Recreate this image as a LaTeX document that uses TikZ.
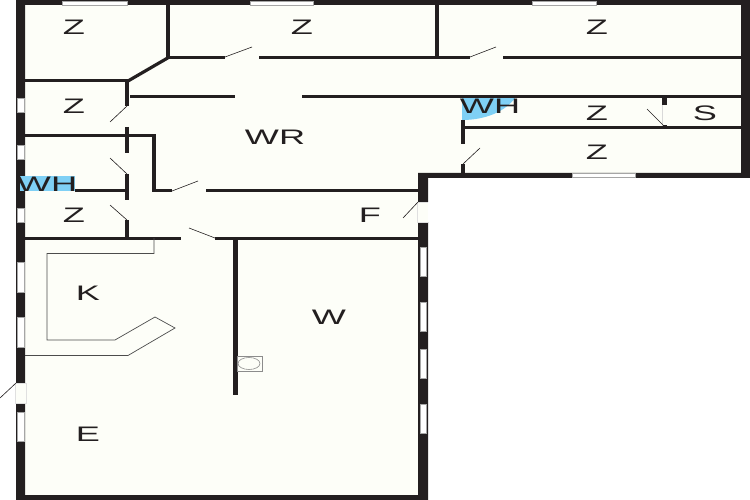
\documentclass[tikz,border=0pt]{standalone}
\usepackage{fontspec}
\setmainfont{Liberation Sans}
\definecolor{floorc}{HTML}{FDFEF8}
\definecolor{wallc}{HTML}{231F20}
\definecolor{wetc}{HTML}{7FD0F5}
\tikzset{
	room/.style={font=\fontsize{21}{21}\selectfont,text=wallc,inner sep=0pt,xscale=1.72,yshift=-0.6pt},
	wall/.style={draw=wallc,line width=3pt},
	thickwall/.style={draw=wallc,line width=4.5pt},
	swing/.style={draw=wallc,line width=0.6pt},
	counter/.style={draw=black!70,line width=0.7pt},
	window/.style={fill=white,draw=black!35,line width=0.4pt},
	doorgap/.style={fill=floorc,draw=black!12,line width=0.4pt},
}
\begin{document}
\begin{tikzpicture}[x=1pt,y=-1pt]
		\useasboundingbox (0,0) rectangle (750,500);
		
		% floor and outer walls
		\fill[floorc] (25,5) -- (741,5) -- (741,173) -- (418,173) -- (418,495) -- (25,495) -- cycle;
		\fill[wetc] (462,97) -- (516,97) .. controls (505,112) and (485,120) .. (462,120) -- cycle;
		\fill[wallc,even odd rule] (16,0) -- (750,0) -- (750,178) -- (428,178) -- (428,500) -- (16,500) -- cycle
			(25,5) -- (741,5) -- (741,173) -- (418,173) -- (418,495) -- (25,495) -- cycle;
		\fill[wetc] (20,176) rectangle (75,191);
		
		% windows
		\foreach \a/\b in {62/127,250/313,532/596}{\draw[window] (\a,1) rectangle (\b,5);}
		\draw[window] (572,173.5) rectangle (635,177);
		\foreach \a/\b in {98/112,145/159,208/222,262/292,317/347,412/441}{\draw[window] (17,\a) rectangle (24,\b);}
		\foreach \a/\b in {247/276,302/331,349/378,404/433}{\draw[window] (420.5,\a) rectangle (426,\b);}
		
		% outside doors
		\draw[doorgap] (15.5,383) rectangle (26,403);
		\draw[doorgap] (417.5,202) rectangle (428.5,222);
		\fill[white] (428,202) rectangle (429,222);
		
		% inner walls
		\draw[thickwall] (168,5) -- (168,59);
		\draw[thickwall] (437,5) -- (437,57);
		\draw[wall] (168,57.5) -- (225,57.5) (259,57.5) -- (470,57.5) (503,57.5) -- (741,57.5);
		\draw[wall,line width=3.2pt] (168.5,57.5) -- (128,81);
		\draw[wall] (25,81) -- (129,81);
		\draw[wall] (130,97) -- (235,97) (302,97) -- (741,97);
		\draw[wall] (465,128) -- (741,128);
		\draw[wall] (25,136) -- (156,136);
		\draw[wall] (154,191) -- (172,191) (206,191) -- (418,191);
		\draw[wall] (75,191) -- (127,191);
		\draw[wall] (25,238) -- (181,238) (215,238) -- (418,238);
		\foreach \a/\b in {81/106,127/153,174/200,220/238}{\draw[thickwall] (127,\a) -- (127,\b);}
		\draw[thickwall] (154,134.7) -- (154,192.3);
		\draw[thickwall] (463,120) -- (463,144) (463,164) -- (463,173);
		\draw[thickwall,line width=5pt] (664,98) -- (664,105) (664,125.5) -- (664,128);
		\draw[thickwall,line width=5pt] (235,238) -- (235,395);
		\draw[black!15,line width=0.5pt] (662,105) -- (662,126);
		
		% door leaves
		\foreach \a/\b/\c/\d in {225/57/252/47,470/57/496/47,127/106/110/122,127/174/110/158,127/220/110/205,172/191/198/181,215/238/189/228,463/164/480/148,664/126/647/109,418/202/403/218,16/383/0/398}{
			\draw[swing] (\a,\b) -- (\c,\d);
		}
		
		% kitchen counter and basin
		\draw[counter] (154,238) -- (154,253.5) -- (47,253.5) -- (47,340) -- (115,340) -- (155,317) -- (175,328) -- (128,355.5) -- (25,355.5);
		\draw[black!45,line width=0.6pt] (237.5,356) rectangle (262,371);
		\draw[black!45,line width=0.6pt] (249,363.5) ellipse (11 and 6);
		
		% room labels
		\node[room] (zone1) at (74,27) {Z};
		\node[room] (zone2) at (302,27) {Z};
		\node[room] (zone3) at (597,27) {Z};
		\node[room] (zone4) at (74,106) {Z};
		\node[room] (zone5) at (597,113) {Z};
		\node[room] (zone6) at (597,152) {Z};
		\node[room] (zone7) at (74,215) {Z};
		\node[room] (store) at (705,113) {S};
		\node[room] (living) at (275,137) {WR};
		\node[room] (hall) at (370,215) {F};
		\node[room] (kitchen) at (88,293) {K};
		\node[room] (wet) at (329,317) {W};
		\node[room] (entry) at (88,434) {E};
		\node[room] (wh1) at (47,184) {WH};
		\node[room] (wh2) at (490,106) {WH};
	\end{tikzpicture}
\end{document}
